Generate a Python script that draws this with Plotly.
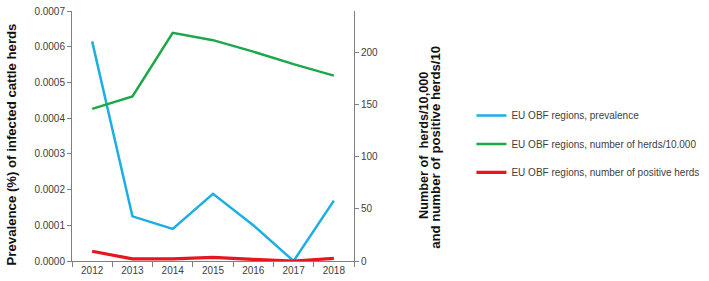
import plotly.graph_objects as go

years = ["2012", "2013", "2014", "2015", "2016", "2017", "2018"]
prevalence = [0.000615, 0.000125, 0.00009, 0.000188, 0.0001, 0.0, 0.000169]
herds_per_10000 = [146, 158, 219, 212, 201, 189, 178]
positive_herds_per_10 = [9.4, 2.0, 2.0, 3.5, 1.5, 0.0, 2.5]
left_ticks = [0, 0.0001, 0.0002, 0.0003, 0.0004, 0.0005, 0.0006, 0.0007]
right_ticks = [0, 50, 100, 150, 200]

names = ["EU OBF regions, prevalence",
         "EU OBF regions, number of herds/10.000",
         "EU OBF regions, number of positive herds"]
colors = ["#1DAEE4", "#1CA84A", "#E5161D"]

fig = go.Figure()
fig.add_trace(go.Scatter(x=years, y=prevalence, mode="lines", name=names[0],
                         line=dict(color=colors[0], width=2.5), legendgroup="a"))
fig.add_trace(go.Scatter(x=years, y=herds_per_10000, mode="lines", name=names[1],
                         line=dict(color=colors[1], width=2.5), yaxis="y2", legendgroup="b"))
fig.add_trace(go.Scatter(x=years, y=positive_herds_per_10, mode="lines", name=names[2],
                         line=dict(color=colors[2], width=3.2), yaxis="y2", legendgroup="c"))

font = "Liberation Sans, Arial, sans-serif"
L, T, PW, PH = 72, 5, 285, 256


def px(x):
    return (x - L) / PW


def py(y):
    return (T + PH - y) / PH


fig.update_layout(
    width=709, height=281,
    margin=dict(l=L, r=709 - L - PW, t=T, b=281 - T - PH),
    paper_bgcolor="white", plot_bgcolor="white",
    font=dict(family=font, size=10, color="#404040"),
    xaxis=dict(type="category", range=[-0.5, 6.5], showline=True, linecolor="#7f7f7f",
               linewidth=1, ticks="outside", tickson="boundaries", ticklen=5,
               tickcolor="#7f7f7f", showgrid=False, zeroline=False,
               tickfont=dict(size=10, color="#404040")),
    yaxis=dict(range=[0, 0.0007], tickvals=left_ticks, tickformat=".4f", showline=True,
               linecolor="#7f7f7f", ticks="outside", ticklen=4, tickcolor="#7f7f7f",
               showgrid=False, zeroline=False, ticklabeloverflow="allow",
               tickfont=dict(size=10, color="#404040")),
    yaxis2=dict(range=[0, 240], tickvals=right_ticks, overlaying="y", side="right",
                showline=True, linecolor="#7f7f7f", ticks="outside", ticklen=4,
                tickcolor="#7f7f7f", showgrid=False, zeroline=False,
                tickfont=dict(size=10, color="#404040")),
    showlegend=True,
    legend=dict(x=1.4165, y=0.6405, xanchor="left", yanchor="top", traceorder="grouped",
                tracegroupgap=9.5, font=dict(size=10, color="#404040"),
                bgcolor="rgba(0,0,0,0)"),
    annotations=[
        dict(text="<b>Prevalence (%) of infected cattle herds</b>",
             xref="paper", yref="paper", x=px(11), y=py(142), textangle=-90,
             showarrow=False, xanchor="center", yanchor="middle",
             font=dict(size=13.2, color="#111111", family=font)),
        dict(text="<b>Number of  herds/10,000</b>",
             xref="paper", yref="paper", x=px(428), y=py(143), textangle=-90,
             showarrow=False, xanchor="center", yanchor="middle",
             font=dict(size=12.7, color="#111111", family=font)),
        dict(text="<b>and number of positive herds/10</b>",
             xref="paper", yref="paper", x=px(440), y=py(145), textangle=-90,
             showarrow=False, xanchor="center", yanchor="middle",
             font=dict(size=13.2, color="#111111", family=font)),
    ],
)

fig.write_html("out.html", config={"displayModeBar": False},
               post_script="document.body.style.margin='0';")
